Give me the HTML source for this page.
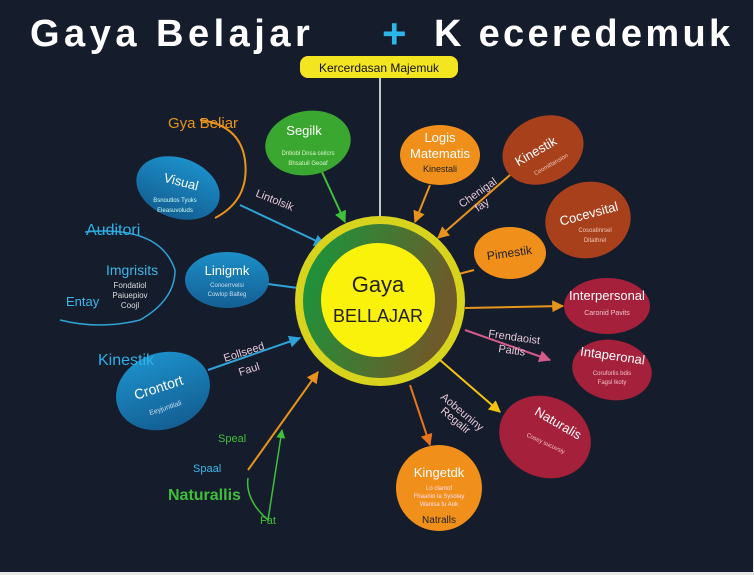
<!DOCTYPE html>
<html><head><meta charset="utf-8"><style>
html,body{margin:0;padding:0;background:#151c2b;}
svg{display:block;font-family:"Liberation Sans",sans-serif;}
</style></head><body>
<svg width="754" height="575" viewBox="0 0 754 575" xmlns="http://www.w3.org/2000/svg">
<defs>
<linearGradient id="ring" x1="0" y1="0" x2="1" y2="0.3"><stop offset="0" stop-color="#139a3c"/><stop offset="1" stop-color="#6e5a2a"/></linearGradient>
<linearGradient id="blue" x1="0" y1="0" x2="0" y2="1"><stop offset="0" stop-color="#1c8fc9"/><stop offset="1" stop-color="#135f93"/></linearGradient>
<marker id="ar" viewBox="0 0 10 10" refX="9" refY="5" markerWidth="6" markerHeight="6" orient="auto"><path d="M0,0L10,5L0,10z" fill="context-stroke"/></marker>
</defs>
<rect width="754" height="575" fill="#151c2b"/>
<rect x="753" y="0" width="1" height="575" fill="#e8e8e8"/>
<rect x="0" y="572" width="754" height="3" fill="#e8e8e8"/>
<text x="30" y="46" font-size="38" font-weight="bold" fill="#fff" letter-spacing="4.5">Gaya Belajar</text>
<text x="382" y="48" font-size="42" font-weight="bold" fill="#2ab6e8">+</text>
<text x="434" y="46" font-size="38" font-weight="bold" fill="#fff" letter-spacing="3.3">K eceredemuk</text>
<line x1="380" y1="78" x2="380" y2="225" stroke="#fff" stroke-width="1.5"/>
<rect x="300" y="56" width="158" height="22" rx="8" fill="#f4e521"/>
<text x="379" y="72" font-size="12" text-anchor="middle" fill="#111">Kercerdasan Majemuk</text>
<g fill="none" stroke-width="2">
<path d="M200,120 Q240,125 245,160 Q250,200 215,218" stroke="#e8941c"/>
<path d="M240,205 L325,245" stroke="#2fa3d8" marker-end="url(#ar)"/>
<path d="M322,172 L345,222" stroke="#3fbf3a" marker-end="url(#ar)"/>
<path d="M268,284 L298,288" stroke="#2fa3d8"/>
<path d="M208,370 L300,338" stroke="#2fa3d8" marker-end="url(#ar)"/>
<path d="M85,232 Q160,225 175,270 Q175,300 140,320 Q100,330 60,320" stroke="#2fa3d8" stroke-width="1.5"/>
<path d="M248,470 L318,372" stroke="#e8941c" marker-end="url(#ar)"/>
<path d="M248,478 Q245,500 268,520 L282,430" stroke="#3fbf3a" stroke-width="1.5" marker-end="url(#ar)"/>
<path d="M430,185 L415,222" stroke="#e8941c" marker-end="url(#ar)"/>
<path d="M510,175 L438,238" stroke="#e8941c" marker-end="url(#ar)"/>
<path d="M474,270 L455,275" stroke="#e8941c"/>
<path d="M465,308 L563,306" stroke="#e8941c" marker-end="url(#ar)"/>
<path d="M465,330 L550,360" stroke="#d45a8a" marker-end="url(#ar)"/>
<path d="M440,360 L500,412" stroke="#f1c40f" marker-end="url(#ar)"/>
<path d="M410,385 L430,445" stroke="#e8741c" marker-end="url(#ar)"/>
</g>
<circle cx="380" cy="301" r="85" fill="#d8d41e"/>
<circle cx="380" cy="301" r="77" fill="url(#ring)"/>
<circle cx="378" cy="300" r="57" fill="#faf20a"/>
<text x="378" y="292" font-size="22" text-anchor="middle" fill="#222">Gaya</text>
<text x="378" y="322" font-size="18" text-anchor="middle" fill="#222">BELLAJAR</text>
<ellipse cx="308" cy="143" rx="43" ry="32" fill="#3aa830" transform="rotate(-10 308 143)"/>
<text x="304" y="135" font-size="13" fill="#fff" text-anchor="middle">Segilk</text>
<text x="308" y="155" font-size="6" fill="#d9f5c8" text-anchor="middle">Dntiobl Dnsa ceilcrs</text>
<text x="308" y="165" font-size="6" fill="#d9f5c8" text-anchor="middle">Bhsatuil Geoaf</text>
<ellipse cx="178" cy="188" rx="43" ry="30" fill="url(#blue)" transform="rotate(20 178 188)"/>
<text x="180" y="186" font-size="13" fill="#fff" text-anchor="middle" transform="rotate(15 180 186)">Visual</text>
<text x="175" y="202" font-size="6" fill="#cfe" text-anchor="middle">Bsnoutlos Tyuks</text>
<text x="175" y="212" font-size="6" fill="#cfe" text-anchor="middle">Eleasuvoluds</text>
<ellipse cx="227" cy="280" rx="42" ry="28" fill="url(#blue)"/>
<text x="227" y="275" font-size="13" fill="#fff" text-anchor="middle">Linigmk</text>
<text x="227" y="287" font-size="6" fill="#cde" text-anchor="middle">Conoerrvelsi</text>
<text x="227" y="296" font-size="6" fill="#cde" text-anchor="middle">Cowlop Balteg</text>
<ellipse cx="163" cy="391" rx="48" ry="38" fill="url(#blue)" transform="rotate(-20 163 391)"/>
<text x="160" y="392" font-size="14" fill="#fff" text-anchor="middle" transform="rotate(-18 160 392)">Crontort</text>
<text x="166" y="410" font-size="7" fill="#cde" text-anchor="middle" transform="rotate(-18 166 410)">Eeyjuntilali</text>
<text x="168" y="128" font-size="15" fill="#e8941c">Gya Beliar</text>
<text x="255" y="196" font-size="11" fill="#e6c8d8" transform="rotate(22 255 196)">Lintolsik</text>
<text x="86" y="235" font-size="16" fill="#2fb0e6">Auditori</text>
<text x="106" y="275" font-size="14" fill="#3db8ec">Imgrisits</text>
<text x="130" y="288" font-size="8" fill="#ddd" text-anchor="middle">Fondatiol</text>
<text x="130" y="298" font-size="8" fill="#ddd" text-anchor="middle">Paiuepiov</text>
<text x="130" y="308" font-size="8" fill="#ddd" text-anchor="middle">Coojl</text>
<text x="66" y="306" font-size="13" fill="#3db8ec">Entay</text>
<text x="98" y="365" font-size="16" fill="#2fb0e6">Kinestik</text>
<text x="225" y="362" font-size="11" fill="#e6c8d8" transform="rotate(-18 225 362)">Eollseed</text>
<text x="240" y="376" font-size="11" fill="#e6c8d8" transform="rotate(-18 240 376)">Faul</text>
<text x="218" y="442" font-size="11" fill="#3fbf3a">Speal</text>
<text x="193" y="472" font-size="11" fill="#3db8ec">Spaal</text>
<text x="168" y="500" font-size="16" font-weight="bold" fill="#3fbf3a">Naturallis</text>
<text x="260" y="524" font-size="11" fill="#3fbf3a">Fat</text>
<ellipse cx="440" cy="155" rx="40" ry="30" fill="#f0901a"/>
<text x="440" y="142" font-size="13" fill="#fff" text-anchor="middle">Logis</text>
<text x="440" y="158" font-size="13" fill="#fff" text-anchor="middle">Matematis</text>
<text x="440" y="172" font-size="9" fill="#222" text-anchor="middle">Kinestali</text>
<ellipse cx="543" cy="150" rx="42" ry="33" fill="#a8401c" transform="rotate(-25 543 150)"/>
<text x="538" y="155" font-size="13" fill="#fff" text-anchor="middle" transform="rotate(-30 538 155)">Kinestik</text>
<text x="552" y="166" font-size="6" fill="#f0c8b8" text-anchor="middle" transform="rotate(-30 552 166)">Ceomitlansion</text>
<ellipse cx="588" cy="220" rx="43" ry="38" fill="#a8401c" transform="rotate(-15 588 220)"/>
<text x="590" y="218" font-size="13" fill="#fff" text-anchor="middle" transform="rotate(-15 590 218)">Cocevsital</text>
<text x="595" y="232" font-size="6" fill="#f0c8b8" text-anchor="middle">Cosoatinrsel</text>
<text x="595" y="242" font-size="6" fill="#f0c8b8" text-anchor="middle">Ditathrel</text>
<ellipse cx="510" cy="253" rx="36" ry="26" fill="#f0901a"/>
<text x="510" y="257" font-size="12" fill="#222" text-anchor="middle" transform="rotate(-8 510 257)">Pimestik</text>
<text x="462" y="208" font-size="11" fill="#e6c8d8" transform="rotate(-35 462 208)">Chenigal</text>
<text x="478" y="212" font-size="11" fill="#e6c8d8" transform="rotate(-35 478 212)">fay</text>
<ellipse cx="607" cy="306" rx="43" ry="28" fill="#a5203a"/>
<text x="607" y="300" font-size="13" fill="#fff" text-anchor="middle">Interpersonal</text>
<text x="607" y="315" font-size="7" fill="#f0c0c8" text-anchor="middle">Caronid Pavits</text>
<text x="488" y="337" font-size="11" fill="#e6c8d8" transform="rotate(8 488 337)">Frendaoist</text>
<text x="498" y="352" font-size="11" fill="#e6c8d8" transform="rotate(8 498 352)">Paitis</text>
<ellipse cx="612" cy="370" rx="40" ry="30" fill="#a5203a" transform="rotate(10 612 370)"/>
<text x="612" y="360" font-size="13" fill="#fff" text-anchor="middle" transform="rotate(8 612 360)">Intaperonal</text>
<text x="612" y="375" font-size="6" fill="#f0c0c8" text-anchor="middle">Coruforlis bdis</text>
<text x="612" y="384" font-size="6" fill="#f0c0c8" text-anchor="middle">Fagsl lkoty</text>
<ellipse cx="545" cy="437" rx="47" ry="40" fill="#a5203a" transform="rotate(25 545 437)"/>
<text x="556" y="427" font-size="13" fill="#fff" text-anchor="middle" transform="rotate(30 556 427)">Naturalis</text>
<text x="545" y="445" font-size="6" fill="#f0c0c8" text-anchor="middle" transform="rotate(25 545 445)">Cosey sucuvsiy</text>
<text x="440" y="398" font-size="11" fill="#e6c8d8" transform="rotate(40 440 398)">Aobeuniny</text>
<text x="440" y="412" font-size="11" fill="#e6c8d8" transform="rotate(40 440 412)">Regalir</text>
<circle cx="439" cy="488" r="43" fill="#f0901a"/>
<text x="439" y="477" font-size="13" fill="#fff" text-anchor="middle">Kingetdk</text>
<text x="439" y="490" font-size="6" fill="#fde" text-anchor="middle">Lo clantof</text>
<text x="439" y="498" font-size="6" fill="#fde" text-anchor="middle">Fhaanio la Sysolay</text>
<text x="439" y="506" font-size="6" fill="#fde" text-anchor="middle">Wanisa fu Aok</text>
<text x="439" y="523" font-size="10" fill="#222" text-anchor="middle">Natralls</text>
</svg>
</body></html>
